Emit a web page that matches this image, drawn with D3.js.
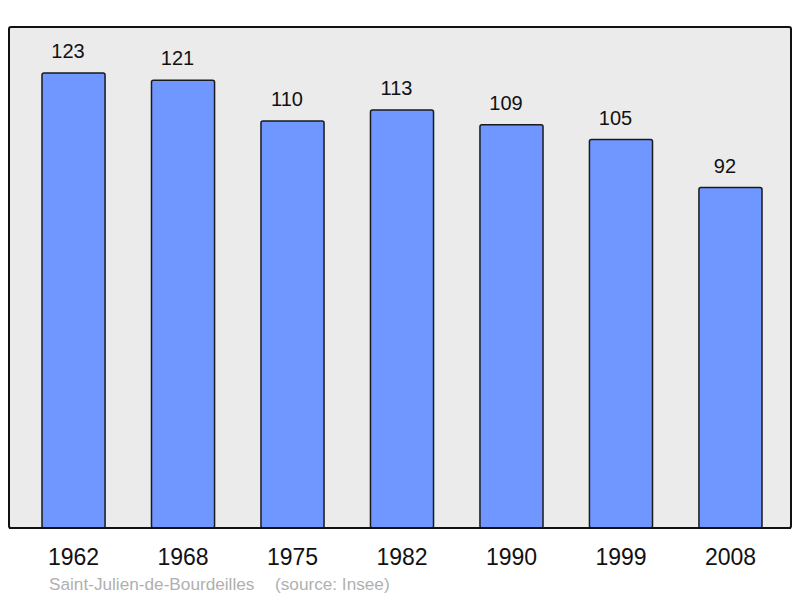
<!DOCTYPE html>
<html>
<head>
<meta charset="utf-8">
<script src="https://cdn.jsdelivr.net/npm/d3@7"></script>
<style>
  body { margin: 0; background: #fff; }
  text { font-family: "Liberation Sans", Arial, sans-serif; }
</style>
</head>
<body>
<div class="chart"></div>
<script>
const years = ['1962', '1968', '1975', '1982', '1990', '1999', '2008'];
const population = [123, 121, 110, 113, 109, 105, 92];
const townName = 'Saint-Julien-de-Bourdeilles';
const sourceText = '(source: Insee)';

const width = 800, height = 598;

let svg = d3.select('.chart')
    .append('svg')
    .attr('width', width)
    .attr('height', height);

// plot frame
svg.append('rect')
    .attr('x', 9).attr('y', 27)
    .attr('width', 782).attr('height', 501)
    .attr('rx', 2)
    .attr('fill', '#ebebeb')
    .attr('stroke', '#111')
    .attr('stroke-width', 2);

let x = d3.scaleBand()
    .domain(years)
    .range([42, 762])
    .paddingInner(0.424)
    .paddingOuter(0);

let y = d3.scaleLinear()
    .domain([0, 135])
    .range([528, 28.5]);

let data = years.map((yr, i) => ({year: yr, value: population[i]}));

svg.append('g')
    .selectAll('rect')
    .data(data)
    .join('rect')
    .attr('x', d => x(d.year))
    .attr('y', d => y(d.value))
    .attr('width', x.bandwidth())
    .attr('height', d => y(0) - y(d.value))
    .attr('rx', 2)
    .attr('fill', '#7096ff')
    .attr('stroke', '#1a1a1a')
    .attr('stroke-width', 1.5);

// value labels (sit a little left of the bar centre, like the original)
svg.append('g')
    .attr('font-size', 20)
    .attr('text-anchor', 'middle')
    .attr('fill', '#111')
    .selectAll('text')
    .data(data)
    .join('text')
    .attr('x', d => x(d.year) + x.bandwidth() / 2)
    .attr('dx', -5.5)
    .attr('y', d => y(d.value) - 15)
    .text(d => d.value);

// redraw the bottom edge over the bars
svg.append('line')
    .attr('x1', 9).attr('x2', 791)
    .attr('y1', 528).attr('y2', 528)
    .attr('stroke', '#111')
    .attr('stroke-width', 2);

// year labels
let xAxis = svg.append('g')
    .attr('transform', 'translate(0,528)')
    .call(d3.axisBottom(x).tickSize(0).tickPadding(0));
xAxis.select('.domain').remove();
xAxis.selectAll('text')
    .attr('dy', null)
    .attr('y', 37)
    .attr('font-size', 23)
    .attr('font-family', '"Liberation Sans", Arial, sans-serif')
    .attr('fill', '#111');

// footer
svg.append('text')
    .attr('x', 49).attr('y', 590)
    .attr('font-size', 17.2)
    .attr('fill', '#b0b0b0')
    .text(townName);
svg.append('text')
    .attr('x', 275).attr('y', 590)
    .attr('font-size', 17.2)
    .attr('fill', '#b0b0b0')
    .text(sourceText);
</script>
</body>
</html>
